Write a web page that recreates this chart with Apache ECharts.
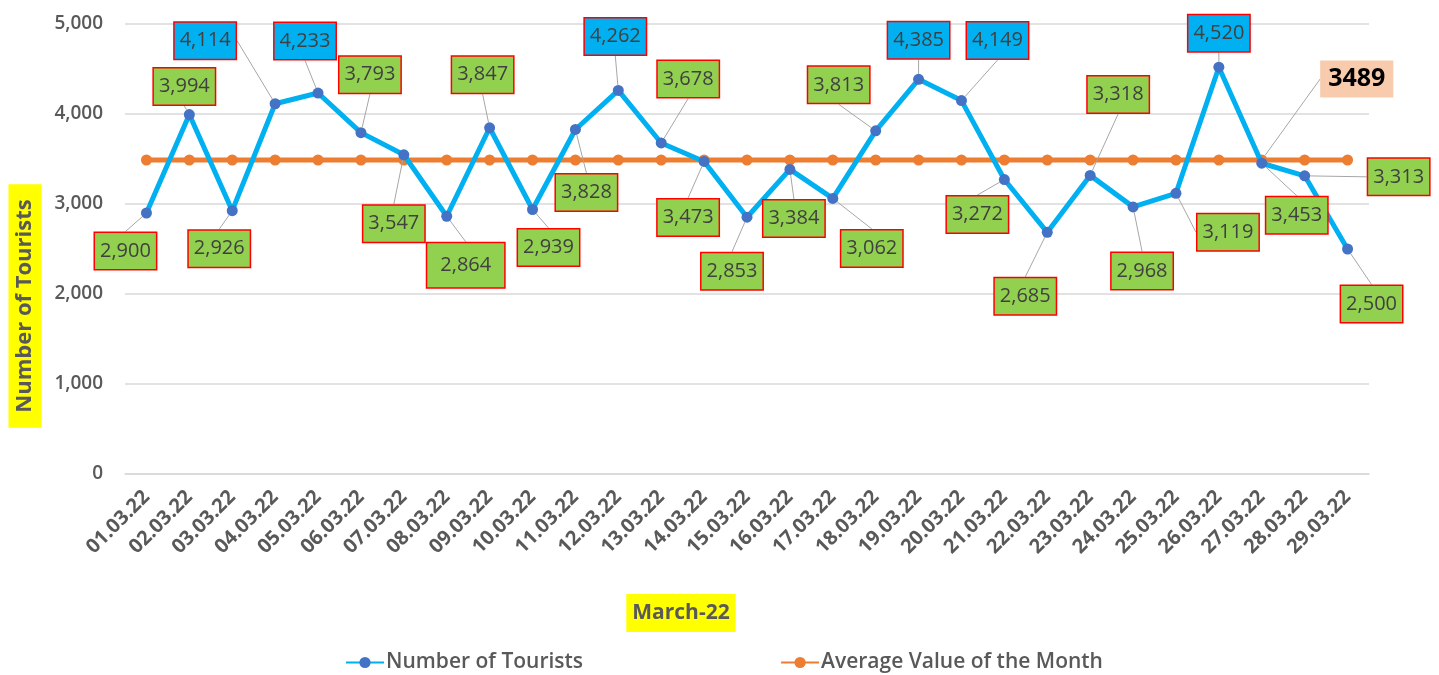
<!DOCTYPE html>
<html>
<head>
<meta charset="utf-8">
<script src="https://cdn.jsdelivr.net/npm/echarts@6/dist/echarts.min.js"></script>
<style>
html,body{margin:0;padding:0;background:#fff;}
#main{width:1439px;height:675px;}
</style>
</head>
<body>
<div id="main"></div>
<script>
// ---- data ----
const categories = ['01.03.22','02.03.22','03.03.22','04.03.22','05.03.22','06.03.22','07.03.22','08.03.22','09.03.22','10.03.22','11.03.22','12.03.22','13.03.22','14.03.22','15.03.22','16.03.22','17.03.22','18.03.22','19.03.22','20.03.22','21.03.22','22.03.22','23.03.22','24.03.22','25.03.22','26.03.22','27.03.22','28.03.22','29.03.22'];
const tourists = [2900,3994,2926,4114,4233,3793,3547,2864,3847,2939,3828,4262,3678,3473,2853,3384,3062,3813,4385,4149,3272,2685,3318,2968,3119,4520,3453,3313,2500];
const averageValue = 3489;
const averageLabelIndex = 26;
const yTicks = {min: 0, max: 5000, interval: 1000};
const seriesNames = ['Number of Tourists', 'Average Value of the Month'];
const xAxisTitle = 'March-22';
const yAxisTitle = 'Number of Tourists';

// ---- label placement (offset of label centre from point, px) ----
const labelOffsets = [
  [-21,38],[-5,-28],[-13,38],[-70,-63],[-13,-52],[9,-58],[-10,69],[19,49],[-7,-53],[16,38],
  [11,63],[-3,-54],[27,-64],[-16,56],[-15,54],[4,49],[39,50],[-37,-46],[0,-39],[36,-60],
  [-27,35],[-22,64],[28,-81],[9,64],[52,39],[0,-34],[35,52],[94,1],[24,55]
];
const avgLabelOffset = [95,-81];

const FONT = '"Open Sans", "Noto Sans", sans-serif';

const touristData = tourists.map((v, i) => ({
  value: v,
  label: {
    backgroundColor: v > 4000 ? '#00B0F0' : '#92D050',
    padding: i === 7 ? [9, 13] : [5, 5]
  }
}));

const avgData = categories.map((c, i) => ({
  value: averageValue,
  label: { show: i === averageLabelIndex }
}));

function placer(offsets) {
  return function (params) {
    const o = Array.isArray(offsets[0]) ? offsets[params.dataIndex] : offsets;
    const r = params.rect;
    return {
      x: r.x + r.width / 2 + o[0],
      y: r.y + r.height / 2 + o[1],
      align: 'center',
      verticalAlign: 'middle'
    };
  };
}

const chart = echarts.init(document.getElementById('main'));
chart.setOption({
  animation: false,
  textStyle: { fontFamily: FONT },
  grid: { left: 125, right: 70, top: 24, bottom: 201, containLabel: false },
  xAxis: {
    type: 'category',
    data: categories,
    boundaryGap: true,
    axisLine: { show: true, lineStyle: { color: '#d9d9d9', width: 1.5 } },
    axisTick: { show: false },
    axisLabel: {
      rotate: 45, margin: 20, color: '#595959',
      fontSize: 20, fontWeight: 'bold', fontFamily: FONT, interval: 0
    }
  },
  yAxis: {
    type: 'value',
    min: yTicks.min, max: yTicks.max, interval: yTicks.interval,
    axisLine: { show: false },
    axisTick: { show: false },
    splitLine: { lineStyle: { color: '#d9d9d9', width: 1.5 } },
    axisLabel: {
      margin: 22, color: '#595959', fontSize: 19, fontWeight: 600, fontFamily: FONT,
      formatter: v => v.toLocaleString('en-US')
    }
  },
  legend: {
    left: 340, top: 647,
    itemGap: 197, itemWidth: 38, itemHeight: 14,
    textStyle: { color: '#595959', fontSize: 21, fontWeight: 600, fontFamily: FONT, padding: [0, 0, 0, -3] },
    data: seriesNames
  },
  graphic: [
    {
      type: 'text', x: 25, y: 306, rotation: Math.PI / 2,
      style: {
        text: yAxisTitle, fill: '#595959', font: 'bold 22px ' + FONT,
        align: 'center', verticalAlign: 'middle',
        backgroundColor: '#FFFF00', padding: [6, 15, 5, 15]
      }
    },
    {
      type: 'text', x: 681, y: 613,
      style: {
        text: xAxisTitle, fill: '#595959', font: 'bold 21px ' + FONT,
        align: 'center', verticalAlign: 'middle',
        backgroundColor: '#FFFF00', padding: [9, 6, 8, 6]
      }
    }
  ],
  series: [
    {
      name: seriesNames[1],
      type: 'line',
      data: avgData,
      z: 2,
      symbol: 'circle', symbolSize: 11,
      lineStyle: { color: '#ED7D31', width: 5 },
      itemStyle: { color: '#ED7D31' },
      label: {
        position: 'inside',
        formatter: p => String(p.value),
        color: '#000', fontSize: 25, fontWeight: 'bold', fontFamily: FONT,
        backgroundColor: '#F8CBAD', padding: [7, 8, 5, 8]
      },
      labelLine: { show: true, lineStyle: { color: '#a6a6a6', width: 1 } },
      labelLayout: placer(avgLabelOffset)
    },
    {
      name: seriesNames[0],
      type: 'line',
      data: touristData,
      z: 3,
      symbol: 'circle', symbolSize: 11,
      lineStyle: { color: '#00B0F0', width: 5 },
      itemStyle: { color: '#4472C4' },
      label: {
        show: true,
        position: 'inside',
        formatter: p => p.value.toLocaleString('en-US'),
        color: '#404040', fontSize: 20, fontFamily: FONT, lineHeight: 26,
        borderColor: '#FF0000', borderWidth: 1.5
      },
      labelLine: { show: true, lineStyle: { color: '#a6a6a6', width: 1 } },
      labelLayout: placer(labelOffsets)
    }
  ]
});
</script>
</body>
</html>
